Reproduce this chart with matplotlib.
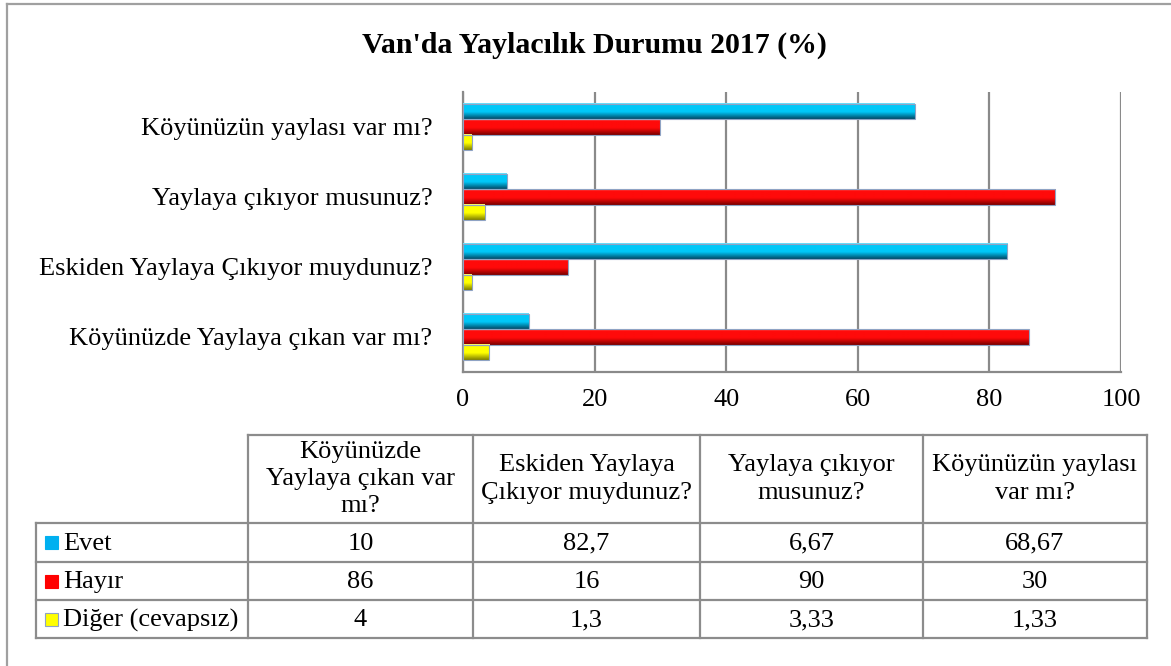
import matplotlib
matplotlib.use("Agg")
import matplotlib.pyplot as plt
import numpy as np
from matplotlib.colors import to_rgb

plt.rcParams['font.family'] = ['Liberation Serif', 'DejaVu Serif']

# data (bottom-to-top order on the chart, left-to-right in the table)
categories = ['Köyünüzde Yaylaya çıkan var mı?',
              'Eskiden Yaylaya Çıkıyor muydunuz?',
              'Yaylaya çıkıyor musunuz?',
              'Köyünüzün yaylası var mı?']
header_labels = ['Köyünüzde\nYaylaya çıkan var\nmı?',
                 'Eskiden Yaylaya\nÇıkıyor muydunuz?',
                 'Yaylaya çıkıyor\nmusunuz?',
                 'Köyünüzün yaylası\nvar mı?']
series_names = ['Evet', 'Hayır', 'Diğer (cevapsız)']
evet = [10, 82.7, 6.67, 68.67]
hayir = [86, 16, 90, 30]
diger = [4, 1.3, 3.33, 1.33]
xticks = [0, 20, 40, 60, 80, 100]

# colours: (top highlight, main, bottom shade), legend key colour
shades = [('#7fe4ff', '#00c8f8', '#004a68'),
          ('#ff5050', '#ff0a0a', '#7a0000'),
          ('#ffff80', '#ffff00', '#808000')]
key_colors = ['#00b0f0', '#ff0000', '#ffff00']


def gradient(top, mid, bot, n=40):
    t, m, b = np.array(to_rgb(top)), np.array(to_rgb(mid)), np.array(to_rgb(bot))
    rows = []
    for i in range(n):
        f = i / (n - 1)
        if f < 0.12:
            c = t + (m - t) * f / 0.12
        elif f < 0.55:
            c = m
        else:
            c = m + (b - m) * (f - 0.55) / 0.45
        rows.append(c)
    return np.array(rows).reshape(n, 1, 3)


W, H = 1171, 666
fig = plt.figure(figsize=(W / 100, H / 100), dpi=100)

# full-figure overlay for frame and table
ov = fig.add_axes([0, 0, 1, 1])
ov.set_xlim(0, W)
ov.set_ylim(H, 0)
ov.axis('off')

frame_c = '#a0a0a0'
ov.plot([7, 7], [4, H], color=frame_c, lw=1.6)
ov.plot([7, W], [4, 4], color=frame_c, lw=1.6)

fig.text(594 / W, 1 - 45 / H, "Van'da Yaylacılık Durumu 2017 (%)",
         ha='center', va='center', fontsize=21.5, fontweight='bold')

# bar chart
ax = fig.add_axes([463 / W, 1 - 372 / H, (1121 - 463) / W, (372 - 92) / H])
ax.set_zorder(2)
ax.patch.set_alpha(0)

bh = 0.22
offsets = [bh, 0, -bh]
for s, vals in enumerate([evet, hayir, diger]):
    img = gradient(*shades[s])
    for i, v in enumerate(vals):
        yc = i + offsets[s]
        ax.imshow(img, extent=[0, v, yc - bh / 2, yc + bh / 2],
                  aspect='auto', origin='upper', zorder=3, interpolation='bilinear')
    ax.barh(np.arange(len(vals)) + offsets[s], vals, height=bh,
            facecolor='none', edgecolor='#8fa3c4', lw=0.8, zorder=4)

ax.set_xlim(0, 100)
ax.set_ylim(-0.5, len(categories) - 0.5)
ax.set_xticks(xticks)
ax.set_yticks(range(len(categories)))
ax.set_yticklabels(categories, fontsize=19)
ax.tick_params(axis='y', length=0, pad=22)
ax.tick_params(axis='x', length=0, pad=12, labelsize=19)
ax.grid(axis='x', color='#8a8a8a', lw=1.6, zorder=1)
ax.set_axisbelow(True)
for side in ['top', 'right']:
    ax.spines[side].set_visible(False)
for side in ['left', 'bottom']:
    ax.spines[side].set_color('#8a8a8a')
    ax.spines[side].set_linewidth(1.6)

# data table
line_c = '#8c8c8c'
col_edges = [36, 248, 473, 700, 923, 1147]
row_edges = [435, 523, 562, 600, 638]
lw_t = 1.6
# horizontal lines
ov.plot([col_edges[1], col_edges[-1]], [row_edges[0]] * 2, color=line_c, lw=lw_t)
for y in row_edges[1:]:
    ov.plot([col_edges[0], col_edges[-1]], [y, y], color=line_c, lw=lw_t)
# vertical lines
ov.plot([col_edges[0]] * 2, [row_edges[1], row_edges[-1]], color=line_c, lw=lw_t)
for x in col_edges[1:]:
    ov.plot([x, x], [row_edges[0], row_edges[-1]], color=line_c, lw=lw_t)

for j, lab in enumerate(header_labels):
    xc = (col_edges[j + 1] + col_edges[j + 2]) / 2
    yc = (row_edges[0] + row_edges[1]) / 2
    ov.text(xc, yc, lab, ha='center', va='center', fontsize=19, linespacing=1.3)

for r, vals in enumerate([evet, hayir, diger]):
    yc = (row_edges[r + 1] + row_edges[r + 2]) / 2
    ov.add_patch(plt.Rectangle((45, yc - 6.5), 13, 13, facecolor=key_colors[r],
                               edgecolor='#8fa3c4' if r == 2 else key_colors[r], lw=0.8))
    ov.text(63, yc + 1, series_names[r], ha='left', va='center', fontsize=19)
    for j, v in enumerate(vals):
        xc = (col_edges[j + 1] + col_edges[j + 2]) / 2
        ov.text(xc, yc + 1, f"{v:g}".replace('.', ','), ha='center', va='center', fontsize=19)

fig.savefig('out.png', dpi=100)
